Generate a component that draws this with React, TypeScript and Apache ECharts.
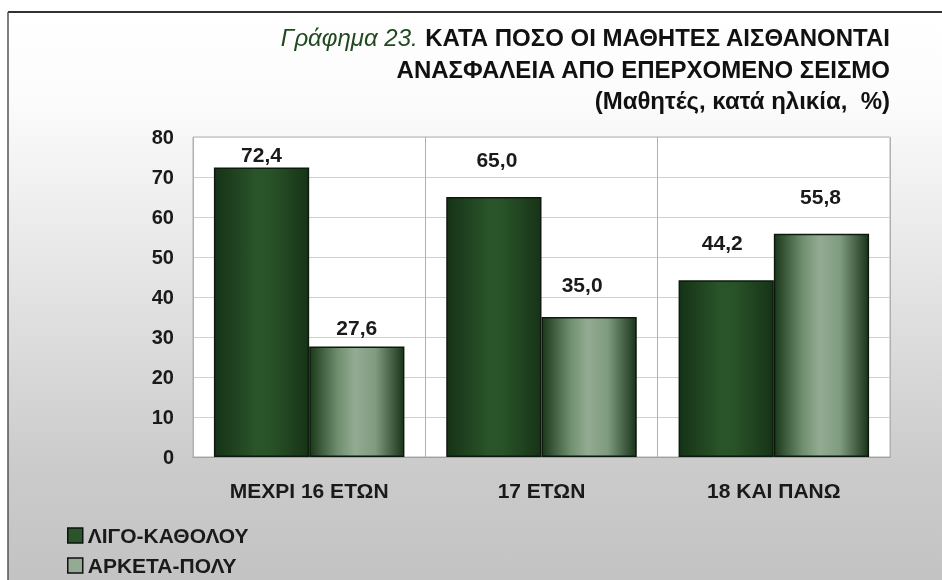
import React, { useEffect, useRef } from "react";
import * as echarts from "echarts";

const categories = ["ΜΕΧΡΙ 16 ΕΤΩΝ", "17 ΕΤΩΝ", "18 ΚΑΙ ΠΑΝΩ"];
const seriesNames = ["ΛΙΓΟ-ΚΑΘΟΛΟΥ", "ΑΡΚΕΤΑ-ΠΟΛΥ"];
const littleValues = [72.4, 65.0, 44.2];
const muchValues = [27.6, 35.0, 55.8];
const yTicks = [0, 10, 20, 30, 40, 50, 60, 70, 80];
const littleLabelOffsets = [[0, 3], [3, -22], [-4, -22]];
const muchLabelOffsets = [[0, -4], [-7, -17], [-1, -22]];

const FONT = "'Liberation Sans', Arial, sans-serif";

const darkGrad = new echarts.graphic.LinearGradient(0, 0, 1, 0, [
  { offset: 0, color: "#163216" },
  { offset: 0.45, color: "#2a552a" },
  { offset: 0.6, color: "#285228" },
  { offset: 1, color: "#173317" },
]);
const lightGrad = new echarts.graphic.LinearGradient(0, 0, 1, 0, [
  { offset: 0, color: "#1c381c" },
  { offset: 0.3, color: "#6f8f6f" },
  { offset: 0.48, color: "#93ab93" },
  { offset: 0.7, color: "#7f9b7f" },
  { offset: 1, color: "#1a351a" },
]);

const fmt = (v: number) => v.toFixed(1).replace(".", ",");

export default function App() {
  const ref = useRef<HTMLDivElement>(null);
  useEffect(() => {
    if (!ref.current) return;
    const chart = echarts.init(ref.current, null, { renderer: "svg" });
    const labelBase = {
      show: true,
      position: "top",
      distance: 5,
      color: "#1a1a1a",
      fontFamily: FONT,
      fontWeight: "bold",
      fontSize: 21,
      formatter: (p: any) => fmt(p.value),
    };
    const legendText = {
      fontFamily: FONT,
      fontWeight: "bold",
      fontSize: 21,
      color: "#1a1a1a",
    };
    chart.setOption({
      animation: false,
      backgroundColor: "transparent",
      graphic: [
        {
          type: "rect",
          z: -10,
          shape: { x: 8, y: 12, width: 934, height: 568 },
          style: {
            fill: new echarts.graphic.LinearGradient(0, 0, 0, 1, [
              { offset: 0, color: "#ffffff" },
              { offset: 0.15, color: "#fcfcfc" },
              { offset: 0.45, color: "#e6e6e6" },
              { offset: 0.8, color: "#cbcbcb" },
              { offset: 1, color: "#c3c3c3" },
            ]),
          },
        },
        {
          type: "line",
          z: -5,
          shape: { x1: 8, y1: 12, x2: 942, y2: 12 },
          style: { stroke: "#333333", lineWidth: 2 },
        },
        {
          type: "line",
          z: -5,
          shape: { x1: 8, y1: 12, x2: 8, y2: 580 },
          style: { stroke: "#555555", lineWidth: 1.5 },
        },
        {
          type: "text",
          x: 890,
          y: 37,
          style: {
            text: "{a|Γράφημα 23.}  {b|ΚΑΤΑ ΠΟΣΟ ΟΙ ΜΑΘΗΤΕΣ ΑΙΣΘΑΝΟΝΤΑΙ}",
            align: "right",
            verticalAlign: "middle",
            rich: {
              a: { fontFamily: FONT, fontSize: 24, fontStyle: "italic", fill: "#1f4a1f" },
              b: { fontFamily: FONT, fontSize: 24, fontWeight: "bold", fill: "#111111" },
            },
          },
        },
        {
          type: "text",
          x: 890,
          y: 69,
          style: {
            text: "ΑΝΑΣΦΑΛΕΙΑ ΑΠΟ ΕΠΕΡΧΟΜΕΝΟ ΣΕΙΣΜΟ",
            align: "right",
            verticalAlign: "middle",
            font: `bold 24px ${FONT}`,
            fill: "#111111",
          },
        },
        {
          type: "text",
          x: 890,
          y: 100,
          style: {
            text: "(Μαθητές, κατά ηλικία,  %)",
            align: "right",
            verticalAlign: "middle",
            font: `bold 24px ${FONT}`,
            fill: "#111111",
          },
        },
      ],
      legend: [
        {
          left: 67,
          top: 525,
          padding: 0,
          itemWidth: 15,
          itemHeight: 15,
          icon: "rect",
          textStyle: legendText,
          data: [
            { name: seriesNames[0], itemStyle: { color: "#2a552a", borderColor: "#111", borderWidth: 1.5 } },
          ],
        },
        {
          left: 67,
          top: 555,
          padding: 0,
          itemWidth: 15,
          itemHeight: 15,
          icon: "rect",
          textStyle: legendText,
          data: [
            { name: seriesNames[1], itemStyle: { color: "#93ab93", borderColor: "#111", borderWidth: 1.5 } },
          ],
        },
      ],
      grid: {
        left: 193,
        top: 137,
        width: 697,
        height: 320,
        show: true,
        backgroundColor: "#ffffff",
        borderColor: "#b0b0b0",
        borderWidth: 1,
      },
      xAxis: {
        type: "category",
        data: categories,
        axisLine: { show: true, lineStyle: { color: "#a0a0a0" } },
        axisTick: { show: false },
        splitLine: { show: true, lineStyle: { color: "#b0b0b0", width: 1 } },
        axisLabel: {
          margin: 23,
          fontFamily: FONT,
          fontWeight: "bold",
          fontSize: 21,
          color: "#1a1a1a",
        },
      },
      yAxis: {
        type: "value",
        min: yTicks[0],
        max: yTicks[yTicks.length - 1],
        interval: 10,
        axisLine: { show: false },
        axisTick: { show: false },
        splitLine: { lineStyle: { color: "#d0d0d0", width: 1 } },
        axisLabel: {
          margin: 19,
          fontFamily: FONT,
          fontWeight: "bold",
          fontSize: 20,
          color: "#1a1a1a",
        },
      },
      series: [
        {
          name: seriesNames[0],
          type: "bar",
          barGap: "0%",
          barCategoryGap: "18%",
          itemStyle: { color: darkGrad, borderColor: "#0d1a0d", borderWidth: 1.5 },
          data: littleValues.map((v, i) => ({
            value: v,
            label: { ...labelBase, offset: littleLabelOffsets[i] },
          })),
        },
        {
          name: seriesNames[1],
          type: "bar",
          barGap: "0%",
          barCategoryGap: "18%",
          itemStyle: { color: lightGrad, borderColor: "#0d1a0d", borderWidth: 1.5 },
          data: muchValues.map((v, i) => ({
            value: v,
            label: { ...labelBase, offset: muchLabelOffsets[i] },
          })),
        },
      ],
    });
    return () => chart.dispose();
  }, []);
  return (
    <div
      ref={ref}
      style={{ position: "fixed", left: 0, top: 0, width: 942, height: 580 }}
    />
  );
}
